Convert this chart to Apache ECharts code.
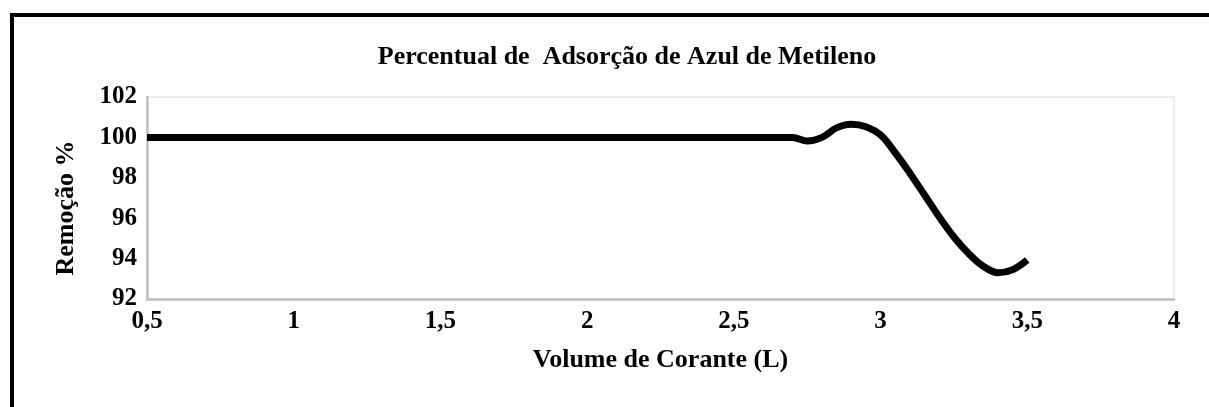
<!DOCTYPE html>
<html>
<head>
<meta charset="utf-8">
<script src="https://cdn.jsdelivr.net/npm/echarts@6/dist/echarts.min.js"></script>
<style>
html,body{margin:0;padding:0;background:#fff;}
#c{width:1209px;height:407px;}
</style>
</head>
<body>
<div id="c"></div>
<script>
const titleText = 'Percentual de  Adsorção de Azul de Metileno';
const xName = 'Volume de Corante (L)';
const yName = 'Remoção %';
const volume = [0.5, 1.0, 1.5, 2.0, 2.5, 2.6, 2.7, 2.75, 2.8, 2.85, 2.9, 2.95, 3.0, 3.05, 3.1, 3.15, 3.2, 3.25, 3.3, 3.35, 3.4, 3.45, 3.5];
const remocao = [100, 100, 100, 100, 100, 100, 100, 99.82, 100.0, 100.47, 100.65, 100.53, 100.12, 99.24, 98.23, 97.15, 96.06, 95.07, 94.25, 93.62, 93.3, 93.45, 93.93];

const FONT = "'Liberation Serif', 'Times New Roman', serif";
const chart = echarts.init(document.getElementById('c'), null, {renderer: 'canvas'});
const seriesData = volume.map((v, i) => [v, remocao[i]]);

chart.setOption({
  animation: false,
  backgroundColor: '#ffffff',
  title: {
    text: titleText,
    left: 622, top: 39, textAlign: 'center',
    textStyle: {fontFamily: FONT, fontWeight: 'bold', fontSize: 26, color: '#000'}
  },
  graphic: [{
    type: 'rect', silent: true, z: 100,
    shape: {x: 12, y: 15, width: 1260, height: 460},
    style: {fill: 'none', stroke: '#000', lineWidth: 4}
  }],
  grid: {
    left: 147, right: 35, top: 97, bottom: 108,
    show: true, borderColor: '#d9d9d9', borderWidth: 1
  },
  xAxis: {
    type: 'value', min: 0.5, max: 4, interval: 0.5,
    name: xName, nameLocation: 'middle', nameGap: 48,
    nameTextStyle: {fontFamily: FONT, fontWeight: 'bold', fontSize: 26, color: '#000'},
    axisLine: {show: true, lineStyle: {color: '#bfbfbf', width: 2.5}},
    axisTick: {show: false},
    splitLine: {show: false},
    axisLabel: {
      margin: 10,
      fontFamily: FONT, fontWeight: 'bold', fontSize: 25, color: '#000',
      formatter: v => String(v).replace('.', ',')
    }
  },
  yAxis: {
    type: 'value', min: 92, max: 102, interval: 2,
    name: yName, nameLocation: 'middle', nameGap: 68,
    nameTextStyle: {fontFamily: FONT, fontWeight: 'bold', fontSize: 26, color: '#000', padding: [0, 20, 0, 0]},
    axisLine: {show: true, lineStyle: {color: '#bfbfbf', width: 2.5}},
    axisTick: {show: false},
    splitLine: {show: false},
    axisLabel: {
      margin: 10,
      fontFamily: FONT, fontWeight: 'bold', fontSize: 25, color: '#000'
    }
  },
  series: [{
    type: 'line',
    data: seriesData,
    smooth: 0.35,
    showSymbol: false,
    lineStyle: {color: '#000', width: 7},
    z: 5
  }]
});
</script>
</body>
</html>
